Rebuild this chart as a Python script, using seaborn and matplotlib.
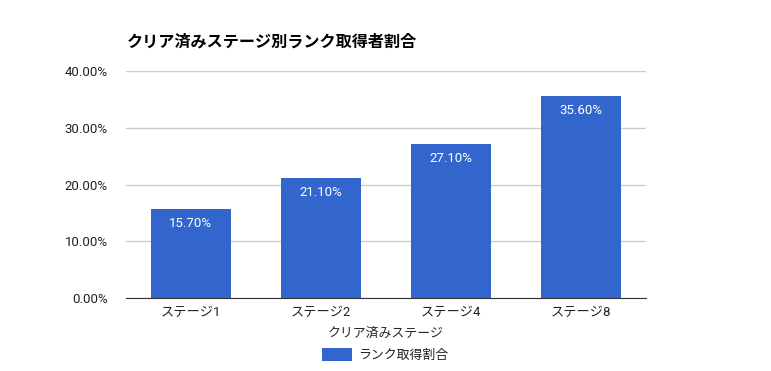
import pandas as pd
import matplotlib
matplotlib.use("Agg")
import matplotlib.pyplot as plt
from matplotlib.ticker import FuncFormatter
import seaborn as sns

STAGES = ["ステージ1", "ステージ2", "ステージ4", "ステージ8"]
RATES = [15.7, 21.1, 27.1, 35.6]
SERIES = "ランク取得割合"
TITLE = "クリア済みステージ別ランク取得者割合"
XLABEL = "クリア済みステージ"
BLUE = "#3366cc"


def main():
    sns.set_style("white")
    plt.rcParams["font.family"] = ["Roboto", "Noto Sans CJK JP", "DejaVu Sans"]
    plt.rcParams["text.color"] = "#222222"

    data = pd.DataFrame({"stage": STAGES, "rate": RATES})

    fig = plt.figure(figsize=(7.71, 3.71), dpi=100)
    ax = fig.add_axes([126 / 771, 1 - 298 / 371, 520 / 771, 227 / 371])

    sns.barplot(data=data, x="stage", y="rate", color=BLUE, saturation=1,
                width=0.615, label=SERIES, linewidth=0, ax=ax)

    ax.set_ylim(0, 40)
    ax.set_yticks([0, 10, 20, 30, 40])
    ax.yaxis.set_major_formatter(FuncFormatter(lambda v, p: f"{v:.2f}%"))
    ax.grid(axis="y", color="#cccccc", linewidth=1)
    ax.set_axisbelow(True)
    for s in ["top", "right", "left"]:
        ax.spines[s].set_visible(False)
    ax.spines["bottom"].set_color("#333333")
    ax.tick_params(axis="both", length=0, labelsize=9.5, colors="#222222")
    ax.tick_params(axis="y", pad=13)
    ax.tick_params(axis="x", pad=6)

    ax.bar_label(ax.containers[0], labels=[f"{v:.2f}%" for v in RATES],
                 padding=-15, color="white", fontsize=9.5)

    ax.set_ylabel("")
    ax.set_xlabel(XLABEL, fontsize=9.3, style="italic", labelpad=5)

    fig.text(127 / 771, 1 - 42 / 371, TITLE, fontsize=11.6, fontweight="bold",
             va="center", ha="left", color="black")

    ax.legend(loc="center", bbox_to_anchor=(0.5, 1 - 355 / 371),
              bbox_transform=fig.transFigure, frameon=False, fontsize=9.3,
              handlelength=2.3, handleheight=1.1, handletextpad=0.5)

    fig.savefig("out.png", dpi=100)


if __name__ == '__main__':
    main()
